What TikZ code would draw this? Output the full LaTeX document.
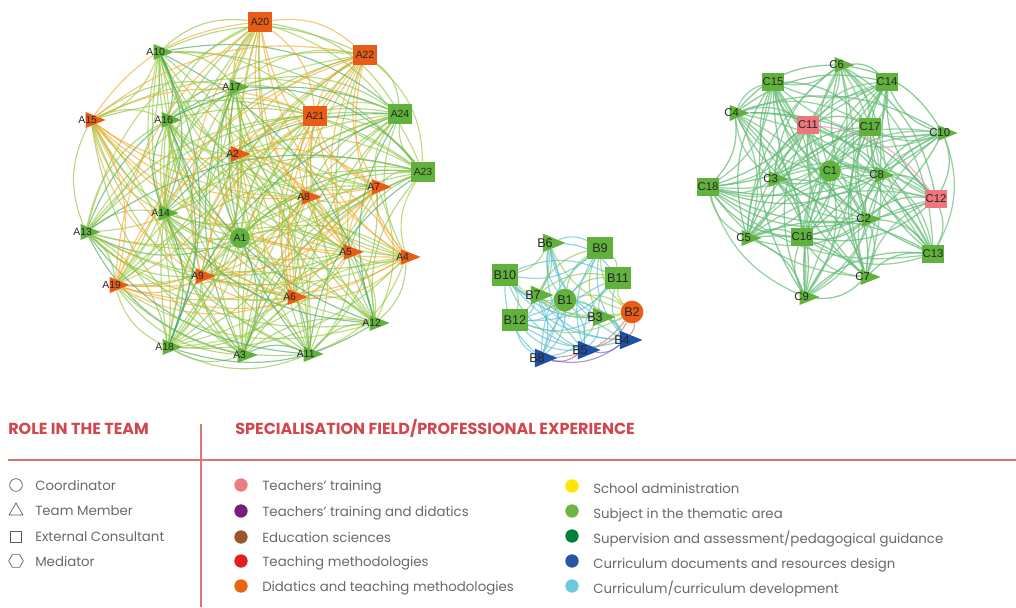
\documentclass[tikz,border=0pt]{standalone}
\usepackage{fontspec}
\setmainfont{Poppins}
\newfontfamily\lblfont{Liberation Sans}
\usetikzlibrary{shapes.geometric}
\pgfdeclarelayer{background}
\pgfsetlayers{background,main}

% node fills
\definecolor{nodeorg}{RGB}{232,92,22}
\definecolor{nodegrn}{RGB}{96,178,60}
\definecolor{nodeblu}{RGB}{30,80,165}
\definecolor{nodepnk}{RGB}{238,118,125}
% edge colours
\definecolor{edgeorg}{RGB}{247,168,45}
\definecolor{edgegrn}{RGB}{72,168,98}
\definecolor{edgelime}{RGB}{138,196,72}
\definecolor{edgeyg}{RGB}{160,200,60}
\definecolor{edgecyan}{RGB}{85,190,205}
\definecolor{edgepur}{RGB}{120,95,200}
\definecolor{edgebrn}{RGB}{195,115,95}
\definecolor{edgepnk}{RGB}{240,150,190}
\definecolor{edgec}{RGB}{95,185,115}
\definecolor{edgec2}{RGB}{115,192,130}
% legend colours
\definecolor{headred}{RGB}{208,72,78}
\definecolor{rulered}{RGB}{218,118,118}
\definecolor{legtext}{RGB}{105,105,105}
\definecolor{symgray}{RGB}{90,90,90}
\definecolor{lgpink}{RGB}{238,125,130}
\definecolor{lgpurple}{RGB}{120,30,125}
\definecolor{lgbrown}{RGB}{155,85,40}
\definecolor{lgred}{RGB}{228,30,36}
\definecolor{lgorange}{RGB}{234,100,20}
\definecolor{lgyellow}{RGB}{255,230,0}
\definecolor{lggreen}{RGB}{110,180,70}
\definecolor{lgdkgreen}{RGB}{0,128,55}
\definecolor{lgblue}{RGB}{40,85,165}
\definecolor{lgcyan}{RGB}{110,200,220}

\tikzset{
  nd/.style={inner sep=0pt, draw=none},
  lblA/.style={font=\lblfont\fontsize{7.8}{8}\selectfont, text=black!85, inner sep=0pt},
  lblB/.style={font=\lblfont\fontsize{9.5}{10}\selectfont, text=black!85, inner sep=0pt},
  lblC/.style={font=\lblfont\fontsize{8.5}{9}\selectfont, text=black!85, inner sep=0pt},
  tlA/.style={lblA, xshift=-2.5pt},
  tlB/.style={lblB, xshift=-3pt},
  tlC/.style={lblC, xshift=-2.5pt},
  triA/.style={nd, isosceles triangle, isosceles triangle stretches, minimum width=12pt, minimum height=15pt},
  sqA/.style={nd, rectangle, minimum width=18pt, minimum height=15pt},
  circA/.style={nd, circle, minimum size=15pt},
  triB/.style={nd, isosceles triangle, isosceles triangle stretches, minimum width=14pt, minimum height=17pt},
  sqB/.style={nd, rectangle, minimum width=19pt, minimum height=16pt},
  circB/.style={nd, circle, minimum size=17pt},
  triC/.style={nd, isosceles triangle, isosceles triangle stretches, minimum width=12pt, minimum height=15pt},
  sqC/.style={nd, rectangle, minimum width=16pt, minimum height=13pt},
  circC/.style={nd, circle, minimum size=16pt},
  ed/.style={line width=0.85pt, draw opacity=0.65, bend left=24},
  edc/.style={line width=0.95pt, draw opacity=0.72, bend left=24},
  % team A links
  Agg0/.style={ed, draw=edgegrn}, Agg1/.style={ed, draw=edgelime},
  Ago0/.style={ed, draw=edgelime}, Ago1/.style={ed, draw=edgeyg},
  Aog0/.style={Ago0}, Aog1/.style={Ago1},
  Aoo0/.style={ed, draw=edgeorg}, Aoo1/.style={Aoo0},
  % team B links
  Bgg0/.style={ed, draw=edgelime}, Bgg1/.style={ed, draw=edgecyan},
  Bgo0/.style={ed, draw=edgeyg}, Bgo1/.style={Bgo0}, Bog0/.style={Bgo0}, Bog1/.style={Bgo0},
  Bgb0/.style={ed, draw=edgecyan}, Bgb1/.style={Bgb0}, Bbg0/.style={Bgb0}, Bbg1/.style={Bgb0},
  Bbb0/.style={ed, draw=edgepur}, Bbb1/.style={Bbb0},
  Bob0/.style={ed, draw=edgebrn}, Bob1/.style={Bob0}, Bbo0/.style={Bob0}, Bbo1/.style={Bob0},
  % team C links
  Cgg0/.style={edc, draw=edgec}, Cgg1/.style={edc, draw=edgec2},
  Cgp0/.style={Cgg0}, Cgp1/.style={Cgg1}, Cpg0/.style={Cgg0}, Cpg1/.style={Cgg1},
  Cpp0/.style={edc, draw=edgepnk}, Cpp1/.style={Cpp0},
  legitem/.style={font=\fontsize{10}{12}\selectfont, text=legtext, anchor=base west, inner sep=0pt},
  leghead/.style={font=\bfseries\fontsize{12}{14}\selectfont, text=headred, anchor=base west, inner sep=0pt},
  dot/.style={circle, inner sep=0pt, minimum size=10pt, draw=none},
  sym/.style={draw=symgray, line width=0.5pt, inner sep=0pt, fill=none}
}

\begin{document}
\begin{tikzpicture}[x=0.75pt,y=-0.75pt]
\useasboundingbox (0,0) rectangle (1016,607);

% ---------- team A ----------
\node[circA, fill=nodegrn, label={[lblA]center:A1}] (A1) at (240,238) {};
\foreach \n/\x/\y/\c in {A2/233/154/nodeorg, A3/240/355/nodegrn, A4/403/257/nodeorg,
  A5/346/252/nodeorg, A6/290/297/nodeorg, A7/374/187/nodeorg, A8/304/197/nodeorg,
  A9/198/276/nodeorg, A10/156/52/nodegrn, A11/306/354/nodegrn, A12/372/323/nodegrn,
  A13/83/232/nodegrn, A14/161/213/nodegrn, A15/88/120/nodeorg, A16/164/120/nodegrn,
  A17/232/87/nodegrn, A18/165/347/nodegrn, A19/112/285/nodeorg}
  \node[triA, fill=\c, label={[tlA]center:\n}] (\n) at (\x+3,\y) {};
\foreach \n/\x/\y/\c in {A20/260/22/nodeorg, A21/315/116/nodeorg, A22/365/55/nodeorg,
  A23/423/172/nodegrn, A24/400/114/nodegrn}
  \node[sqA, fill=\c, label={[lblA]center:\n}] (\n) at (\x,\y) {};

% ---------- team B ----------
\node[circB, fill=nodegrn, label={[lblB]center:B1}] (B1) at (565,300) {};
\node[circB, fill=nodeorg, label={[lblB]center:B2}] (B2) at (632,312) {};
\foreach \n/\x/\y/\c in {B3/595/317/nodegrn, B4/622/340/nodeblu, B5/580/350/nodeblu,
  B6/545/243/nodegrn, B7/533/295/nodegrn, B8/537/358/nodeblu}
  \node[triB, fill=\c, label={[tlB]center:\n}] (\n) at (\x+4,\y) {};
\foreach \n/\x/\y/\c in {B9/600/248/nodegrn, B10/505/275/nodegrn, B11/618/278/nodegrn,
  B12/515/320/nodegrn}
  \node[sqB, fill=\c, label={[lblB]center:\n}] (\n) at (\x,\y) {};

% ---------- team C ----------
\node[circC, fill=nodegrn, label={[lblC]center:C1}] (C1) at (830,171) {};
\foreach \n/\x/\y/\c in {C2/864/219/nodegrn, C3/771/179/nodegrn, C4/732/113/nodegrn,
  C5/744/238/nodegrn, C6/837/65/nodegrn, C7/863/277/nodegrn, C8/877/175/nodegrn,
  C9/802/297/nodegrn, C10/940/133/nodegrn}
  \node[triC, fill=\c, label={[tlC]center:\n}] (\n) at (\x+3,\y) {};
\foreach \n/\x/\y/\c in {C11/808/125/nodepnk, C12/936/199/nodepnk, C13/933/254/nodegrn,
  C14/887/82/nodegrn, C15/773/82/nodegrn, C16/802/237/nodegrn, C17/870/127/nodegrn,
  C18/708/187/nodegrn}
  \node[sqC, fill=\c, label={[lblC]center:\n}] (\n) at (\x,\y) {};

% ---------- collaboration links (curved) ----------
\def\Aset{A1/g,A2/o,A3/g,A4/o,A5/o,A6/o,A7/o,A8/o,A9/o,A10/g,A11/g,A12/g,A13/g,A14/g,A15/o,A16/g,A17/g,A18/g,A19/o,A20/o,A21/o,A22/o,A23/g,A24/g}
\def\Bset{B1/g,B2/o,B3/g,B4/b,B5/b,B6/g,B7/g,B8/b,B9/g,B10/g,B11/g,B12/g}
\def\Cset{C1/g,C2/g,C3/g,C4/g,C5/g,C6/g,C7/g,C8/g,C9/g,C10/g,C11/p,C12/p,C13/g,C14/g,C15/g,C16/g,C17/g,C18/g}
\begin{pgfonlayer}{background}
\foreach \a/\ca [count=\i] in \Aset {
  \foreach \b/\cb [count=\j] in \Aset {
    \ifnum\i<\j
      \pgfmathtruncatemacro\pty{mod(\i+\j,2)}
      \draw[A\ca\cb\pty] (\a) to (\b);
    \fi
  }
}
\foreach \a/\ca [count=\i] in \Bset {
  \foreach \b/\cb [count=\j] in \Bset {
    \ifnum\i<\j
      \pgfmathtruncatemacro\pty{mod(\i+\j,2)}
      \draw[B\ca\cb\pty] (\a) to (\b);
    \fi
  }
}
\foreach \a/\ca [count=\i] in \Cset {
  \foreach \b/\cb [count=\j] in \Cset {
    \ifnum\i<\j
      \pgfmathtruncatemacro\pty{mod(\i+\j,2)}
      \draw[C\ca\cb\pty] (\a) to (\b);
    \fi
  }
}
\end{pgfonlayer}

% ---------- legend ----------
\draw[rulered, line width=0.9pt] (8,460) -- (1016,460);
\draw[rulered, line width=0.9pt] (201,424) -- (201,607);
\node[leghead] (hrole) at (8,434) {ROLE IN THE TEAM};
\node[leghead] (hspec) at (235,434) {SPECIALISATION FIELD/PROFESSIONAL EXPERIENCE};

\node[sym, circle, minimum size=9.5pt] (scoord) at (16,485) {};
\node[sym, regular polygon, regular polygon sides=3, minimum size=12pt] (steam) at (16,511) {};
\node[sym, rectangle, minimum size=8.5pt] (sext) at (16,537) {};
\node[sym, regular polygon, regular polygon sides=6, minimum size=11pt] (smed) at (16,561) {};
\node[legitem] (tcoord) at (35,490) {Coordinator};
\node[legitem] (tteam) at (35,515) {Team Member};
\node[legitem] (text) at (35,541) {External Consultant};
\node[legitem] (tmed) at (35,566) {Mediator};

\foreach \k/\y/\c/\t in {1/485/lgpink/{Teachers' training},
  2/511/lgpurple/{Teachers' training and didatics},
  3/537/lgbrown/{Education sciences},
  4/561/lgred/{Teaching methodologies},
  5/586/lgorange/{Didatics and teaching methodologies}} {
  \node[dot, fill=\c] (dm\k) at (241,\y) {};
  \node[legitem] (tm\k) at (262,\y+5) {\t};
}
\foreach \k/\y/\c/\t in {1/486/lgyellow/{School administration},
  2/511/lggreen/{Subject in the thematic area},
  3/536/lgdkgreen/{Supervision and assessment/pedagogical guidance},
  4/561/lgblue/{Curriculum documents and resources design},
  5/586/lgcyan/{Curriculum/curriculum development}} {
  \node[dot, fill=\c] (dr\k) at (572,\y) {};
  \node[legitem] (tr\k) at (593,\y+7) {\t};
}
\end{tikzpicture}
\end{document}
